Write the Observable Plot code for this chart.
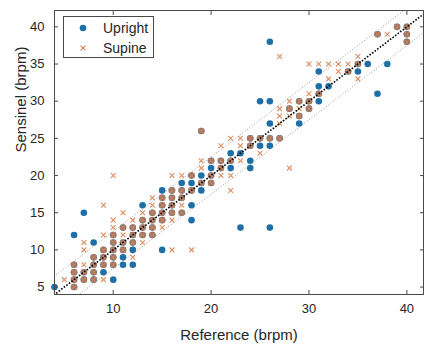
<!DOCTYPE html>
<html><head><meta charset="utf-8">
<script src="https://cdn.jsdelivr.net/npm/d3@7"></script>
<script src="https://cdn.jsdelivr.net/npm/@observablehq/plot@0.6"></script>
<style>
body{margin:0;background:#fff;}
#chart{width:424px;height:345px;overflow:hidden;}
</style>
</head><body><div id="chart"></div>
<script>
// ---- data (reference vs Sensinel, brpm) ----
const uprightRef = [39,40, 37,40, 26,40, 35,36,38, 31,34,35, 31,32, 31,37, 25,26,29,30,31, 28,30, 29, 26,29, 19, 24,25,26,27, 24,25,26, 22,23, 20,21,22,24, 20,21,22,24, 18,19,20, 17,18,19,20, 15,16,17,18,19, 15,16,17, 13,15,16,18, 7,14,15,16,17, 13,14,15,18, 11,12,13,14,23,26, 6,10,12,13,14, 8,10,11,12, 9,10,11,12,15, 8,9,10,11, 6,8,9,10,11,12, 6,7,8,9, 6,7,8,10, 4,6];
const uprightSens = [40,40, 39,39, 38,38, 35,35,35, 34,34,34, 32,32, 31,31, 30,30,30,30,30, 29,29, 28, 27,27, 26, 25,25,25,25, 24,24,24, 23,23, 22,22,22,22, 21,21,21,21, 20,20,20, 19,19,19,19, 18,18,18,18,18, 17,17,17, 16,16,16,16, 15,15,15,15,15, 14,14,14,14, 13,13,13,13,13,13, 12,12,12,12,12, 11,11,11,11, 10,10,10,10,10, 9,9,9,9, 8,8,8,8,8,8, 7,7,7,7, 6,6,6,6, 5,5];
const supineRef = [39,40, 37,38,40, 40, 27,35, 30,31,32,33,34,35, 33,34, 32,35, 30,31, 28,29,30, 27,28,29,30, 27,28,29, 27, 19, 22,23,24,25,26,27, 21,23,24, 25, 19,20,21,22,23, 19,21,28, 10,16,17,18,20,21,22, 19,20, 16,17,18,22, 14,15,16,17, 9,14,15,16,17, 11,13,14,15,16,17, 10,12,13,14,15,16, 10,11,12,13,14,15, 9,10,11,12,13,14, 7,10,11,12,13, 7,9,10,11,16,18, 8,9,10,12, 6,7,8,9,10, 6,7,8, 5,6,7,8,9, 6];
const supineSens = [40,40, 39,39,39, 38, 36,36, 35,35,35,35,35,35, 34,34, 33,33, 31,31, 30,30,30, 29,29,29,29, 28,28,28, 27, 26, 25,25,25,25,25,25, 24,24,24, 23, 22,22,22,22,22, 21,21,21, 20,20,20,20,20,20,20, 19,19, 18,18,18,18, 17,17,17,17, 16,16,16,16,16, 15,15,15,15,15,15, 14,14,14,14,14,14, 13,13,13,13,13,13, 12,12,12,12,12,12, 11,11,11,11,11, 10,10,10,10,10,10, 9,9,9,9, 8,8,8,8,8, 7,7,7, 6,6,6,6,6, 5];
const seriesNames = ["Upright", "Supine"];
const xTicks = [10, 20, 30, 40];
const yTicks = [5, 10, 15, 20, 25, 30, 35, 40];
const limitOffsets = [-2.5, 2.5];
const xLabel = "Reference (brpm)";
const yLabel = "Sensinel (brpm)";

if (uprightRef.length !== uprightSens.length || supineRef.length !== supineSens.length)
  console.error("length mismatch", uprightRef.length, uprightSens.length, supineRef.length, supineSens.length);

const blue = "#1f6fa7", orange = "#d9804e", ink = "#262626", axisCol = "#4a4a4a";
const upright = uprightRef.map((x, i) => ({x, y: uprightSens[i]}));
const supine = supineRef.map((x, i) => ({x, y: supineSens[i]}));
const key = d => d.x + "," + d.y;
const upSet = new Set(upright.map(key));
const both = supine.filter(d => upSet.has(key(d)));
const diag = [{o: 0}, ...limitOffsets.map(o => ({o}))].map(d => ({...d, x1: 0, y1: 0 + d.o, x2: 50, y2: 50 + d.o}));

const xR = 2.3;
const font = "'Liberation Sans', Arial, sans-serif";
const plot = Plot.plot({
  width: 424, height: 345,
  marginLeft: 54, marginRight: 1, marginTop: 10, marginBottom: 51,
  style: {fontFamily: font, background: "#fff"},
  x: {domain: [4, 41.7]},
  y: {domain: [4, 42.2]},
  marks: [
    Plot.dot(upright, {x: "x", y: "y", r: 3.3, fill: blue, stroke: "none"}),
    Plot.dot(both, {x: "x", y: "y", r: 3.3, fill: orange, fillOpacity: 0.62, stroke: "none"}),
    Plot.dot(supine, {x: "x", y: "y", r: xR, symbol: "times", stroke: orange, strokeWidth: 1.1, strokeOpacity: 0.9}),
    Plot.link(diag.filter(d => d.o !== 0), {x1: "x1", y1: "y1", x2: "x2", y2: "y2", stroke: "#8a8a8a", strokeWidth: 0.9, strokeDasharray: "1,2", clip: true}),
    Plot.link(diag.filter(d => d.o === 0), {x1: "x1", y1: "y1", x2: "x2", y2: "y2", stroke: "#000", strokeWidth: 1.6, strokeDasharray: "1.6,1.6", clip: true}),
    Plot.frame({stroke: axisCol, strokeWidth: 1}),
    Plot.axisX({ticks: xTicks, anchor: "bottom", tickSize: -4, tickPadding: 13, fontSize: 13, color: ink, stroke: axisCol, label: null}),
    Plot.axisX({ticks: xTicks, anchor: "top", tickSize: -4, tickFormat: () => "", color: axisCol, label: null}),
    Plot.axisY({ticks: yTicks, anchor: "left", tickSize: -4, tickPadding: 14, fontSize: 13, color: ink, stroke: axisCol, label: null}),
    Plot.axisY({ticks: yTicks, anchor: "right", tickSize: -4, tickFormat: () => "", color: axisCol, label: null}),
    Plot.text([xLabel], {text: d => d, frameAnchor: "bottom", dy: 41, lineAnchor: "middle", fontSize: 15, fill: ink}),
    Plot.text([yLabel], {text: d => d, frameAnchor: "left", rotate: -90, dx: -33, lineAnchor: "middle", fontSize: 15, fill: ink})
  ]
});
document.getElementById("chart").appendChild(plot);

// legend box inside the axes (top-left)
const svg = d3.select(plot);
const lg = svg.append("g").attr("font-family", font).attr("font-size", 14).attr("fill", ink).attr("text-anchor", "start");
lg.append("rect").attr("x", 63.5).attr("y", 16.5).attr("width", 90).attr("height", 41)
  .attr("fill", "#fff").attr("stroke", axisCol).attr("stroke-width", 1);
lg.append("circle").attr("cx", 83).attr("cy", 28).attr("r", 3.3).attr("fill", blue);
lg.append("path").attr("d", d3.symbol(d3.symbolTimes, Math.PI * xR * xR)()).attr("transform", "translate(83,48)")
  .attr("fill", "none").attr("stroke", orange).attr("stroke-width", 1.1);
lg.append("text").attr("x", 103).attr("y", 28).attr("dy", "0.35em").text(seriesNames[0]);
lg.append("text").attr("x", 103).attr("y", 48).attr("dy", "0.35em").text(seriesNames[1]);
</script>
</body></html>
